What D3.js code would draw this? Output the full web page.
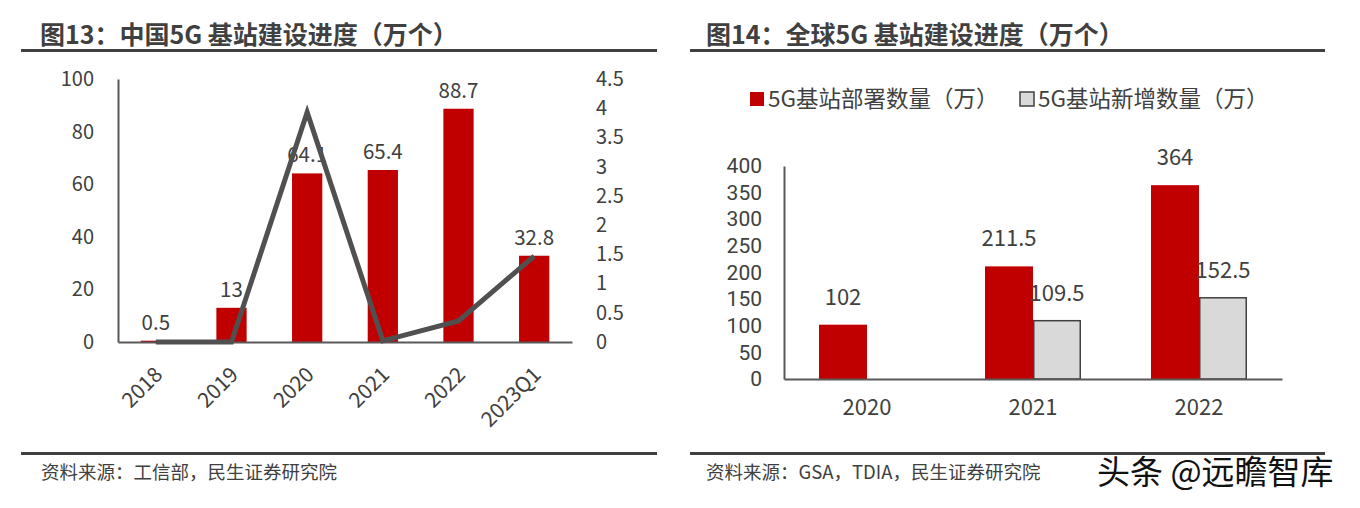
<!DOCTYPE html>
<html>
<head>
<meta charset="utf-8">
<script src="https://cdn.jsdelivr.net/npm/d3@7/dist/d3.min.js"></script>
<style>
  html, body { margin: 0; padding: 0; background: #fff; }
  svg { display: block; }
  text { font-family: "Noto Sans CJK SC", "Noto Sans", sans-serif; fill: #404040; }
</style>
</head>
<body>
<svg id="chart" width="1360" height="508"></svg>
<script>
// ---- Data: left chart (图13) ----
const cnCategories = ["2018", "2019", "2020", "2021", "2022", "2023Q1"];
const cnStations = [0.5, 13, 64.1, 65.4, 88.7, 32.8];          // 万个 (left axis)
const cnGrowth = [0, 0, 3.93, 0.02, 0.36, 1.47];                 // right axis
const cnLeftTicks = [0, 20, 40, 60, 80, 100];
const cnRightTicks = [0, 0.5, 1, 1.5, 2, 2.5, 3, 3.5, 4, 4.5];

// ---- Data: right chart (图14) ----
const glYears = ["2020", "2021", "2022"];
const glDeployed = [102, 211.5, 364];
const glAdded = [null, 109.5, 152.5];
const glTicks = [0, 50, 100, 150, 200, 250, 300, 350, 400];
const glSeries = ["5G基站部署数量（万）", "5G基站新增数量（万）"];

const RED = "#c00000", GREY = "#d9d9d9", DARK = "#404040", AXIS = "#595959";
const svg = d3.select("#chart");

// ---------- headers / footers ----------
function header(x0, x1, tx, title) {
  svg.append("text").attr("x", tx).attr("y", 44)
    .attr("font-size", 25).attr("font-weight", 700).attr("fill", DARK)
    .text(title);
  svg.append("rect").attr("x", x0).attr("y", 49).attr("width", x1 - x0).attr("height", 3).attr("fill", DARK);
  svg.append("rect").attr("x", x0).attr("y", 452).attr("width", x1 - x0).attr("height", 3).attr("fill", DARK);
}
header(21, 657, 40, "图13：中国5G 基站建设进度（万个）");
header(690, 1325, 706, "图14：全球5G 基站建设进度（万个）");
svg.append("text").attr("x", 41).attr("y", 479).attr("font-size", 18.5).text("资料来源：工信部，民生证券研究院");
svg.append("text").attr("x", 706).attr("y", 479).attr("font-size", 18.5).text("资料来源：GSA，TDIA，民生证券研究院");
svg.append("text").attr("x", 1097).attr("y", 484).attr("font-size", 33).style("fill", "#111").text("头条 @远瞻智库");

// ---------- left chart ----------
{
  const x = d3.scaleBand().domain(cnCategories).range([118, 572]).paddingInner(0.6).paddingOuter(0.3);
  const yL = d3.scaleLinear().domain([0, 100]).range([342, 79]);
  const yR = d3.scaleLinear().domain([0, 4.5]).range([342, 79]);
  const g = svg.append("g");

  // bars
  g.selectAll("rect.bar").data(cnStations).join("rect")
    .attr("x", (d, i) => x(cnCategories[i]))
    .attr("y", d => yL(d))
    .attr("width", x.bandwidth())
    .attr("height", d => yL(0) - yL(d))
    .attr("fill", RED);

  // axes
  const axL = d3.axisLeft(yL).tickValues(cnLeftTicks).tickSize(0).tickPadding(24);
  const gL = g.append("g").attr("transform", "translate(118,0)").call(axL);
  gL.select(".domain").attr("stroke", AXIS).attr("stroke-width", 2);
  gL.selectAll("text").attr("font-size", 20).style("fill", DARK);

  const axR = d3.axisRight(yR).tickValues(cnRightTicks).tickSize(0).tickPadding(24).tickFormat(d3.format("~g"));
  const gR = g.append("g").attr("transform", "translate(572,0)").call(axR);
  gR.select(".domain").remove();
  gR.selectAll("text").attr("font-size", 20).style("fill", DARK);

  const axB = d3.axisBottom(x).tickSize(0).tickPadding(0);
  const gB = g.append("g").attr("transform", "translate(0,342)").call(axB);
  gB.select(".domain").attr("stroke", AXIS).attr("stroke-width", 2);
  gB.selectAll("text").attr("font-size", 21).style("fill", DARK)
    .attr("text-anchor", "end").attr("dy", 0)
    .attr("transform", "translate(8,34) rotate(-45)");

  // value labels
  g.selectAll("text.val").data(cnStations).join("text").attr("class", "val")
    .attr("x", (d, i) => x(cnCategories[i]) + x.bandwidth() / 2)
    .attr("y", d => yL(d) - 11)
    .attr("text-anchor", "middle").attr("font-size", 20.5)
    .text(d => d);

  // line
  const line = d3.line().x((d, i) => x(cnCategories[i]) + x.bandwidth() / 2).y(d => yR(d));
  g.append("path").datum(cnGrowth).attr("d", line)
    .attr("fill", "none").attr("stroke", "#505050").attr("stroke-width", 5).attr("stroke-linejoin", "miter");
}

// ---------- right chart ----------
{
  const x0 = d3.scaleBand().domain(glYears).range([784, 1282]);
  const x1 = d3.scaleBand().domain(glSeries).range([x0.bandwidth() / 2 - 48, x0.bandwidth() / 2 + 48]);
  const y = d3.scaleLinear().domain([0, 400]).range([379, 166]);
  const g = svg.append("g");

  const rows = glYears.map((yr, i) => ({ yr, vals: [glDeployed[i], glAdded[i]] }));

  const grp = g.selectAll("g.grp").data(rows).join("g")
    .attr("transform", d => `translate(${x0(d.yr)},0)`);
  grp.selectAll("rect").data(d => d.vals.map((v, j) => ({ v, j })).filter(e => e.v != null)).join("rect")
    .attr("x", e => x1(glSeries[e.j]) + (e.j === 1 ? 0.75 : 0))
    .attr("y", e => y(e.v))
    .attr("width", e => x1.bandwidth() - (e.j === 1 ? 1.5 : 0))
    .attr("height", e => y(0) - y(e.v))
    .attr("fill", e => e.j === 0 ? RED : GREY)
    .attr("stroke", e => e.j === 0 ? "none" : DARK)
    .attr("stroke-width", 1.5);
  grp.selectAll("text").data(d => d.vals.map((v, j) => ({ v, j })).filter(e => e.v != null)).join("text")
    .attr("x", e => x1(glSeries[e.j]) + x1.bandwidth() / 2)
    .attr("y", e => y(e.v) - 20)
    .attr("text-anchor", "middle").attr("font-size", 22)
    .text(e => e.v);

  const axL = d3.axisLeft(y).tickValues(glTicks).tickSize(0).tickPadding(22);
  const gL = g.append("g").attr("transform", "translate(784,0)").call(axL);
  gL.select(".domain").attr("stroke", AXIS).attr("stroke-width", 2);
  gL.selectAll("text").attr("font-size", 21).style("fill", DARK)
    .style("font-family", "Roboto, 'Liberation Sans', sans-serif");

  const axB = d3.axisBottom(x0).tickSize(0).tickPadding(20);
  const gB = g.append("g").attr("transform", "translate(0,379)").call(axB);
  gB.select(".domain").attr("stroke", AXIS).attr("stroke-width", 2);
  gB.selectAll("text").attr("font-size", 22).style("fill", DARK);

  // legend
  const lg = g.append("g");
  const legendX = [750, 1020];
  glSeries.forEach((s, j) => {
    lg.append("rect").attr("x", legendX[j]).attr("y", 92).attr("width", 14).attr("height", 14)
      .attr("fill", j === 0 ? RED : GREY).attr("stroke", j === 0 ? "none" : DARK).attr("stroke-width", 1.5);
    lg.append("text").attr("x", legendX[j] + 18).attr("y", 107).attr("font-size", 22.5).text(s);
  });
}
</script>
</body>
</html>
